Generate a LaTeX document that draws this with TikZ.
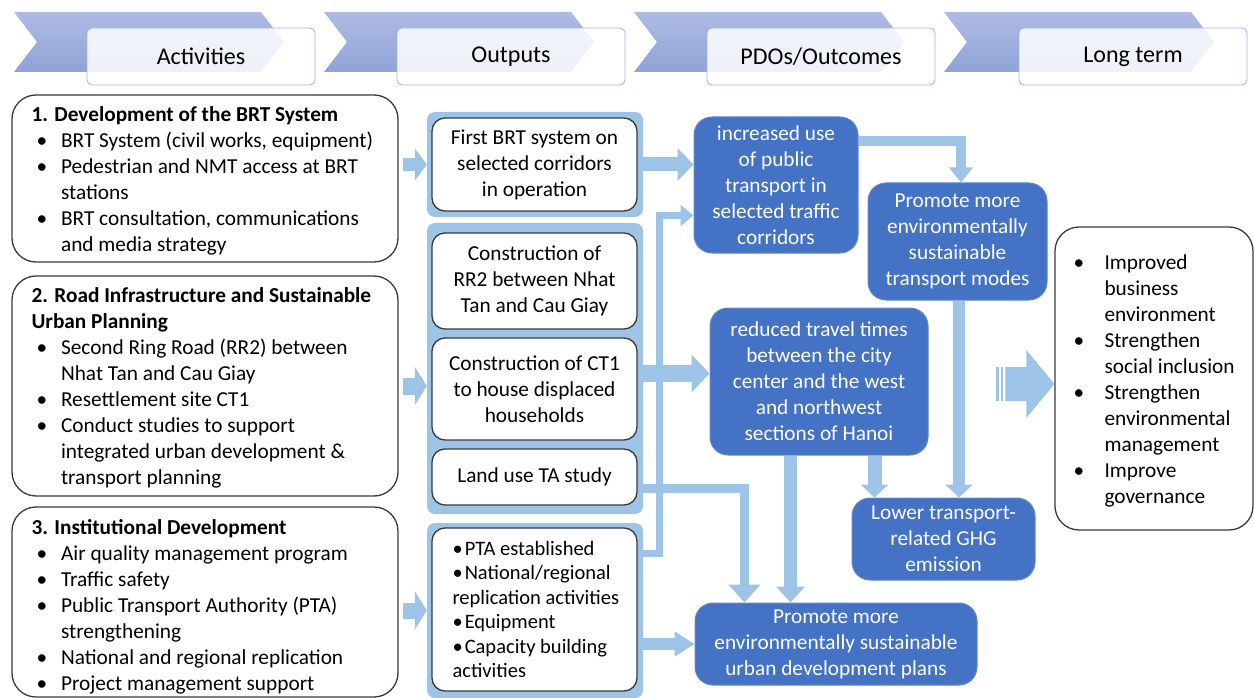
\documentclass[tikz,border=0pt]{standalone}
\usepackage{fontspec}
\setmainfont{Carlito}
\usetikzlibrary{arrows.meta,calc}
\definecolor{dkb}{HTML}{4472C4}
\definecolor{lb}{HTML}{9DC3E6}
\definecolor{chtop}{HTML}{AEBBE3}
\definecolor{chbot}{HTML}{8FA3D7}
\definecolor{hbord}{HTML}{A3B4E2}
\definecolor{bord}{HTML}{3A3A3A}
\newcommand\bl{\makebox[29.5pt][l]{\hspace{5pt}\textbullet}}
\newcommand\ind{\hspace*{29.5pt}}
\newcommand\lbl{\makebox[33pt][l]{\hspace{2pt}\textbullet}}
\newcommand\sbl{\textbullet\hspace{2pt}}
\begin{document}
\begin{tikzpicture}[x=1pt,y=-1pt,
 txt/.style={font=\fontsize{21.3pt}{26pt}\selectfont},
 hdrbox/.style={draw=hbord, line width=0.8pt, fill=white, fill opacity=0.85, text opacity=1, rounded corners=5pt, minimum width=228pt, minimum height=57pt, inner sep=0pt, font=\fontsize{24pt}{28pt}\selectfont},
 actbox/.style={draw=bord, line width=1.3pt, fill=white, rounded corners=24pt, minimum width=386pt, inner sep=0pt},
 lefttext/.style={txt, align=left, inner sep=0pt, anchor=west},
 grp/.style={fill=lb, rounded corners=8pt, minimum width=216pt, inner sep=0pt},
 outbox/.style={draw=bord, line width=1.3pt, fill=white, rounded corners=13pt, minimum width=205pt, inner sep=0pt, txt, align=center},
 pdo/.style={fill=dkb, draw=dkb!85!white, line width=1pt, rounded corners=18pt, inner sep=0pt, txt, text=white, align=center},
 ltbox/.style={draw=bord, line width=1.3pt, fill=white, rounded corners=24pt, inner sep=0pt},
 conn/.style={draw=lb, line join=miter},
]
\useasboundingbox (0,0) rectangle (1254,698);

% header chevrons
\foreach \dx in {0,310,620,930}{
  \shade[top color=chtop,bottom color=chbot] (14+\dx,12) -- (261+\dx,12) -- (284+\dx,42) -- (261+\dx,72) -- (14+\dx,72) -- (37+\dx,42) -- cycle;
}
\node[hdrbox] (h1) at (201,56.5) {Activities};
\node[hdrbox] (h2) at (511,56.5) {Outputs};
\node[hdrbox] (h3) at (821,56.5) {PDOs/Outcomes};
\node[hdrbox] (h4) at (1133,56.5) {Long term};

% activities
\node[actbox, minimum height=167pt] (a1) at (205,178.5) {};
\node[lefttext] (a1t) at ([xshift=20pt,yshift=-2.5pt]a1.west) {\textbf{1. Development of the BRT System}\\
\bl BRT System (civil works, equipment)\\
\bl Pedestrian and NMT access at BRT\\
\ind stations\\
\bl BRT consultation, communications\\
\ind and media strategy};

\node[actbox, minimum height=220pt] (a2) at (205,386) {};
\node[lefttext] (a2t) at ([xshift=20pt,yshift=-2pt]a2.west) {\textbf{2. Road Infrastructure and Sustainable}\\
\textbf{Urban Planning}\\
\bl Second Ring Road (RR2) between\\
\ind Nhat Tan and Cau Giay\\
\bl Resettlement site CT1\\
\bl Conduct studies to support\\
\ind integrated urban development \&\\
\ind transport planning};

\node[actbox, minimum height=190pt] (a3) at (205,602) {};
\node[lefttext] (a3t) at ([xshift=20pt,yshift=-5pt]a3.west) {\textbf{3. Institutional Development}\\
\bl Air quality management program\\
\bl Traffic safety\\
\bl Public Transport Authority (PTA)\\
\ind strengthening\\
\bl National and regional replication\\
\bl Project management support};

% output groups
\node[grp, minimum height=105pt] (g1) at (535,164.5) {};
\node[grp, minimum height=291pt] (g2) at (535,368.5) {};
\node[grp, minimum height=175pt] (g3) at (535,610.5) {};

\node[outbox, minimum height=93pt] (o1) at (534.5,164.5) {First BRT system on\\selected corridors\\in operation};
\node[outbox, minimum height=96pt] (o2) at (534.5,281) {Construction of\\RR2 between Nhat\\Tan and Cau Giay};
\node[outbox, minimum height=102pt] (o3) at (534.5,389) {Construction of CT1\\to house displaced\\households};
\node[outbox, minimum height=56pt] (o4) at (534.5,477) {Land use TA study};
\node[outbox, minimum height=163pt] (o5) at (534.5,609.5) {};
\node[lefttext, font=\fontsize{20.5pt}{24.4pt}\selectfont] (o5t) at ([xshift=21pt]o5.west) {\sbl PTA established\\
\sbl National/regional\\
replication activities\\
\sbl Equipment\\
\sbl Capacity building\\
activities};

% outcomes
\node[pdo, minimum width=164pt, minimum height=136pt] (p1) at (776,185) {increased use\\of public\\transport in\\selected traffic\\corridors};
\node[pdo, minimum width=179pt, minimum height=117pt] (p2) at (957.5,241.5) {Promote more\\environmentally\\sustainable\\transport modes};
\node[pdo, minimum width=218pt, minimum height=147pt] (p3) at (819,381.5) {reduced travel times\\between the city\\center and the west\\and northwest\\sections of Hanoi};
\node[pdo, minimum width=183pt, minimum height=82pt] (p4) at (943.5,539) {Lower transport-\\related GHG\\emission};
\node[pdo, minimum width=282pt, minimum height=82pt] (p5) at (836,644) {Promote more\\environmentally sustainable\\urban development plans};

% long term
\node[ltbox, minimum width=198pt, minimum height=303pt] (lt) at (1154,378.5) {};
\node[lefttext] (ltt) at ([xshift=17pt,yshift=-2.5pt]lt.west) {\lbl Improved\\
\hspace*{33pt}business\\
\hspace*{33pt}environment\\
\lbl Strengthen\\
\hspace*{33pt}social inclusion\\
\lbl Strengthen\\
\hspace*{33pt}environmental\\
\hspace*{33pt}management\\
\lbl Improve\\
\hspace*{33pt}governance};

% activity -> output arrows
\draw[conn, line width=13pt, -{Triangle[length=12pt,width=32pt]}] ($(g1.west -| a1.east)+(4,0)$) -- (g1.west);
\draw[conn, line width=17pt, -{Triangle[length=12pt,width=38pt]}] ($(a2.east)+(4,0)$) -- (a2.east -| g2.west);
\draw[conn, line width=16pt, -{Triangle[length=12pt,width=38pt]}] ($(g3.west -| a3.east)+(4,0)$) -- (g3.west);

% output -> outcome connectors
\draw[conn, line width=14pt, -{Triangle[length=16pt,width=32pt]}] (g1.east) -- (g1.east -| p1.west);
\draw[conn, line width=7pt, -{Triangle[length=13pt,width=21pt]}] ([yshift=-31pt]g3.north east) -- ++(16,0) |- ([yshift=-99pt]p1.north west);
\coordinate (m1) at ($(g2.east)+(0,5)$);
\draw[conn, line width=17pt, -{Triangle[length=18pt,width=37pt]}] (m1) -- (m1 -| p3.west);
\draw[conn, line width=9pt, -{Triangle[length=18pt,width=31pt]}] ($(o4.east)+(0,11)$) -| ($(p5.north west)+(50,0)$);
\draw[conn, line width=12pt, -{Triangle[length=20pt,width=24pt]}] (p5.west -| g3.east) -- (p5.west);

% outcome -> outcome connectors
\draw[conn, line width=10pt, -{Triangle[length=15pt,width=23pt]}] ($(p1.north east)+(0,25)$) -| ($(p2.north)+(3.5,0)$);
\coordinate (m2) at ($(p3.south west)+(81,0)$);
\draw[conn, line width=13pt, -{Triangle[length=16pt,width=28pt]}] (m2) -- (m2 |- p5.north);
\coordinate (m3) at ($(p3.south west)+(165,0)$);
\draw[conn, line width=14pt, -{Triangle[length=13pt,width=27pt]}] (m3) -- (m3 |- p4.north);
\coordinate (m4) at ($(p2.south)+(1.5,0)$);
\draw[conn, line width=12pt, -{Triangle[length=13pt,width=27pt]}] (m4) -- (m4 |- p4.north);

% big arrow to long term
\coordinate (bt) at ([yshift=-5.5pt]lt.west);
\fill[lb] (bt) -- ++(-28,-34) -- ++(0,17) -- ++(-21,0) -- ++(0,34) -- ++(21,0) -- ++(0,17) -- cycle;
\fill[lb] ($(bt)+(-58,-17)$) rectangle ($(bt)+(-55.5,17)$);
\fill[lb] ($(bt)+(-53.5,-17)$) rectangle ($(bt)+(-51,17)$);
\end{tikzpicture}
\end{document}
